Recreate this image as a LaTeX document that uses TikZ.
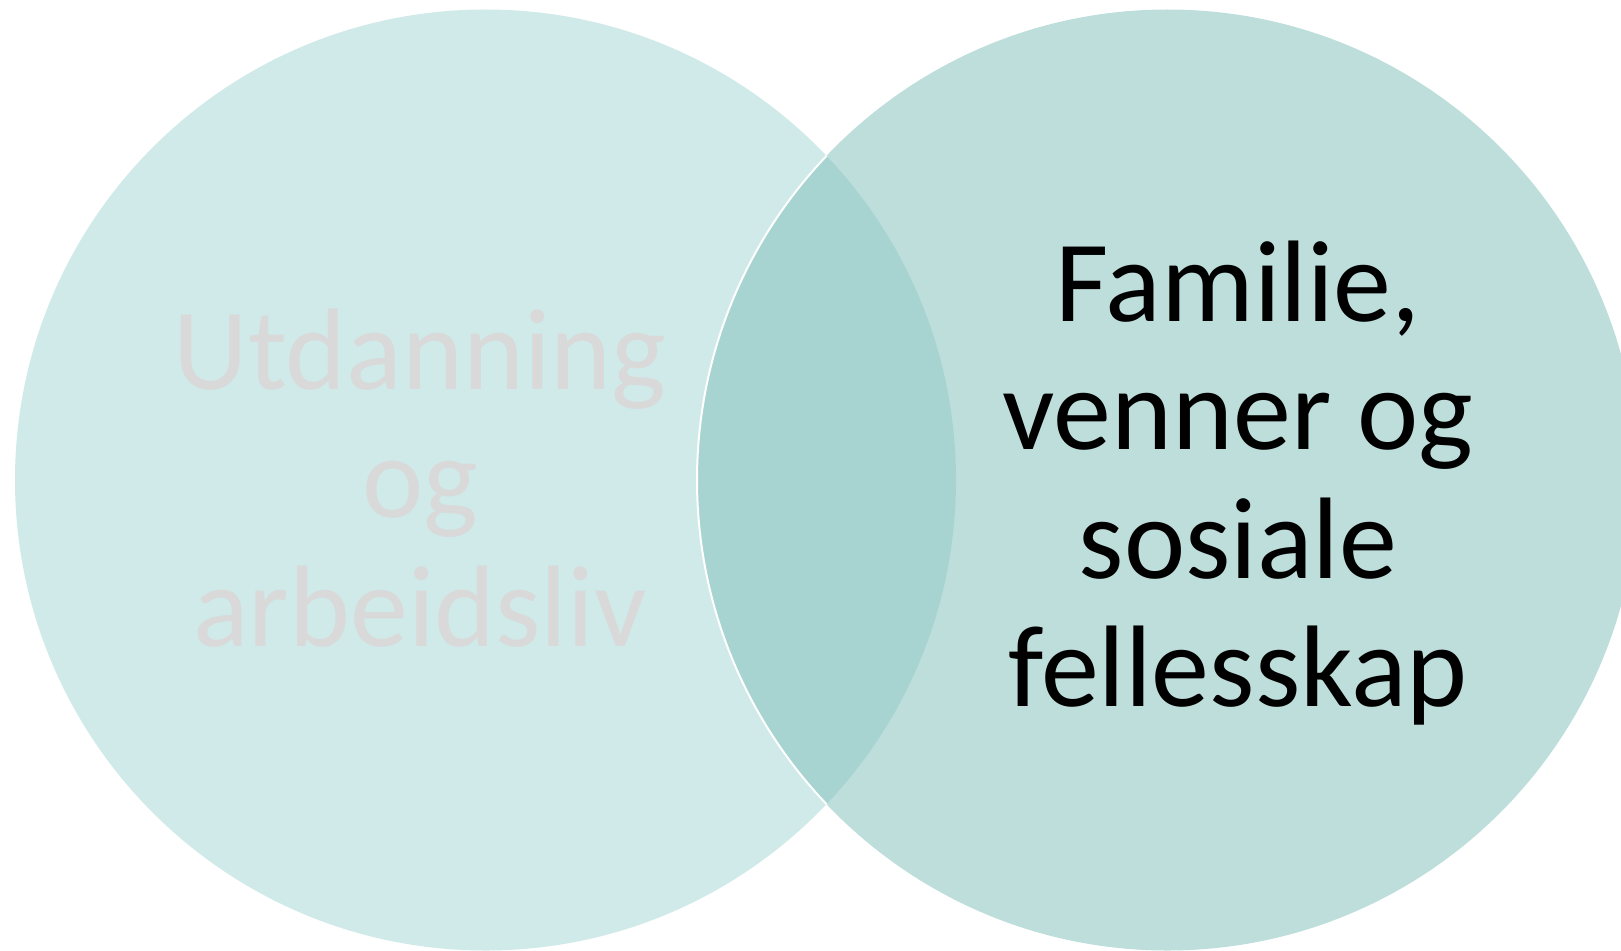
\documentclass[tikz,border=0pt]{standalone}
\usepackage{fontspec}
\setmainfont{Carlito}
\definecolor{workfill}{HTML}{CFEAE8}
\definecolor{familyfill}{HTML}{BEDEDC}
\definecolor{bothfill}{HTML}{A7D4D1}
\definecolor{paletext}{HTML}{D9D9D9}
\begin{document}
\begin{tikzpicture}[x=1pt,y=-1pt,
    setlabel/.style={align=center,inner sep=0pt,font=\fontsize{116}{128.5}\selectfont}]
    \useasboundingbox (0,0) rectangle (1621,950);
    \clip (0,0) rectangle (1621,950);
    \fill [workfill] (485.5,480) circle (470.5);
    \fill [familyfill] (1167.5,480) circle (470.5);
    \begin{scope}
        \clip (485.5,480) circle (470.5);
        \fill [bothfill] (1167.5,480) circle (470.5);
        % white rim, only seen over the left circle
        \draw [white, line width=2pt] (1167.5,480) circle (470.5);
    \end{scope}
    \node [setlabel, text=paletext] (work) at (420,478) {Utdanning\\og\\arbeidsliv};
    \node [setlabel, text=black] (family) at (1238,483) {Familie,\\venner og\\sosiale\\fellesskap};
\end{tikzpicture}
\end{document}
